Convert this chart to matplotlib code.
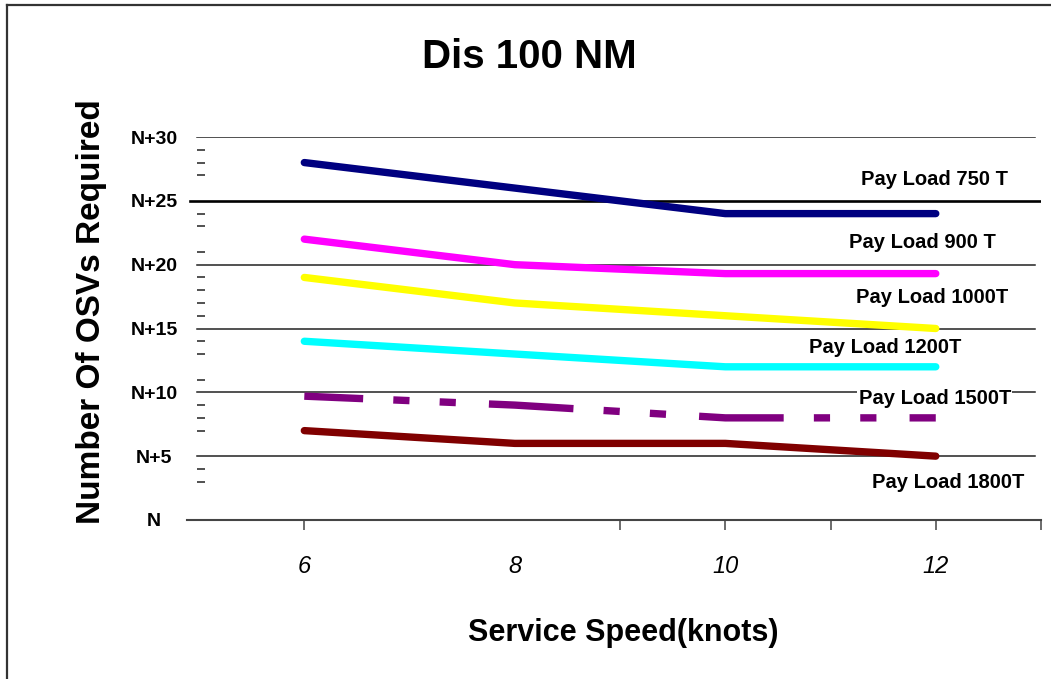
import matplotlib
matplotlib.use('Agg')
import matplotlib.pyplot as plt
from matplotlib.lines import Line2D

plt.rcParams['font.family'] = ['Liberation Sans', 'DejaVu Sans']

# service speed (knots) and number of OSVs above N for each pay load
speed = [6, 8, 10, 12]
load_750 = [28, 26, 24, 24]
load_900 = [22, 20, 19.3, 19.3]
load_1000 = [19, 17, 16, 15]
load_1200 = [14, 13, 12, 12]
load_1500 = [9.7, 9, 8, 8]
load_1800 = [7, 6, 6, 5]

series_names = ['Pay Load 750 T', 'Pay Load 900 T', 'Pay Load 1000T',
                'Pay Load 1200T', 'Pay Load 1500T', 'Pay Load 1800T']

y_ticks = [0, 5, 10, 15, 20, 25, 30]
y_labels = ['N', 'N+5', 'N+10', 'N+15', 'N+20', 'N+25', 'N+30']
y_minor = [3, 4, 7, 8, 9, 11, 13, 14, 16, 17, 18, 19, 21, 23, 24, 27, 28, 29]
x_labels = [6, 8, 10, 12]
x_marks = [6, 9, 10, 11, 12, 13]

fig = plt.figure(figsize=(10.51, 6.79), dpi=100)
ax = fig.add_axes([0.1784, 0.2342, 0.8121, 0.5640])
ax.set_xlim(4.89, 13.0)
ax.set_ylim(0, 30)

# horizontal reference lines
for v in y_ticks[1:]:
    if v == 25:
        ax.axhline(v, xmin=0.003, xmax=1.0, color='black', lw=1.9, zorder=1)
    else:
        ax.axhline(v, xmin=0.011, xmax=0.993, color='#222222', lw=1.1, zorder=1)

lw = 5.3
ax.plot(speed, load_750, color='#000080', lw=lw, solid_capstyle='round', zorder=2)
ax.plot(speed, load_900, color='#ff00ff', lw=lw, solid_capstyle='round', zorder=2)
ax.plot(speed, load_1000, color='#ffff00', lw=lw, solid_capstyle='round', zorder=2)
ax.plot(speed, load_1200, color='#00ffff', lw=lw, solid_capstyle='round', zorder=2)
ax.plot(speed, load_1500, color='#800080', lw=lw, zorder=2,
        linestyle=(3.5, (11.5, 4.1, 2.2, 4.1, 2.2, 4.5)))
ax.plot(speed, load_1800, color='#800000', lw=lw, solid_capstyle='round', zorder=2)

# series labels on the right
label_pos = [(11.99, 26.7), (11.87, 21.7), (11.97, 17.4),
             (11.52, 13.55), (11.99, 9.5), (12.12, 2.9)]
for name, (lx, ly) in zip(series_names, label_pos):
    box = None
    if name == 'Pay Load 1500T':
        box = dict(facecolor='white', edgecolor='none', pad=1)
    ax.text(lx, ly, name, ha='center', va='center', fontsize=14.5,
            fontweight='bold', bbox=box, zorder=4, clip_on=False)

# axes styling
for s in ['top', 'right', 'left']:
    ax.spines[s].set_visible(False)
ax.spines['bottom'].set_color('#444444')
ax.spines['bottom'].set_linewidth(1.5)
ax.spines['left'].set_position(('outward', -7))

ax.set_yticks(y_ticks)
ax.set_yticklabels(y_labels, fontsize=14, fontweight='bold', ha='center')
ax.set_yticks(y_minor, minor=True)
ax.tick_params(axis='y', which='major', length=0, pad=31)
ax.tick_params(axis='y', which='minor', direction='in', length=5.8,
               width=1.1, color='#222222')

ax.xaxis.remove_overlapping_locs = False
ax.set_xticks(x_labels)
ax.set_xticklabels([str(v) for v in x_labels], fontsize=17, fontstyle='italic')
ax.set_xticks(x_marks, minor=True)
ax.tick_params(axis='x', which='major', length=0, pad=25)
ax.tick_params(axis='x', which='minor', direction='out', length=7,
               width=1.1, color='#444444')

ax.set_xlabel('Service Speed(knots)', fontsize=22, fontweight='bold')
ax.xaxis.set_label_coords(0.510, -0.257)
ax.set_ylabel('Number Of OSVs Required', fontsize=24, fontweight='bold')
ax.yaxis.set_label_coords(-0.094, 0.543)
fig.text(0.504, 0.916, 'Dis 100 NM', ha='center', va='center',
         fontsize=29, fontweight='bold')

# outer frame (top and left edges)
fig.add_artist(Line2D([7 / 1051, 1], [1 - 5 / 679, 1 - 5 / 679],
                      transform=fig.transFigure, color='#333333', lw=1.6))
fig.add_artist(Line2D([7 / 1051, 7 / 1051], [0, 1 - 5 / 679],
                      transform=fig.transFigure, color='#333333', lw=1.6))

fig.savefig('out.png', dpi=100, facecolor='white')
